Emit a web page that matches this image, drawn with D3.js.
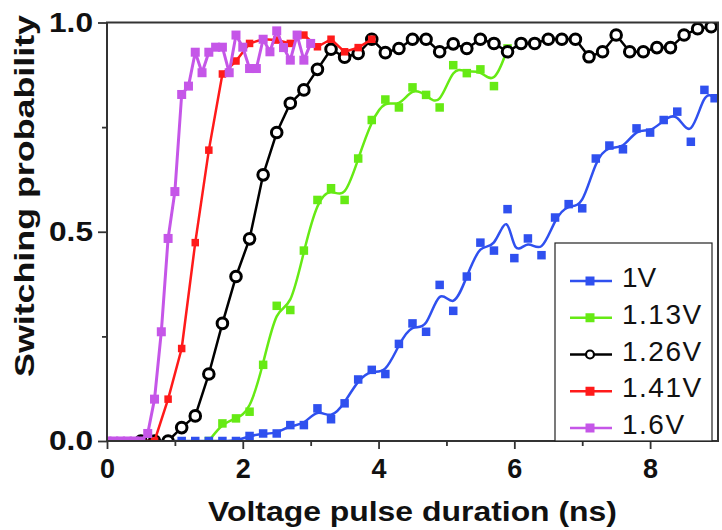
<!DOCTYPE html>
<html><head><meta charset="utf-8">
<script src="https://cdn.jsdelivr.net/npm/d3@7"></script>
<style>body{margin:0;background:#fff}</style>
</head><body>
<svg id="c" width="722" height="530"></svg>
<script>
// ---- data ----
const series = ["1V", "1.13V", "1.26V", "1.41V", "1.6V"];

const t1V = [0.5,0.7,0.9,1.1,1.3,1.5,1.7,1.9,2.1,2.3,2.5,2.7,2.9,3.1,3.3,3.5,3.7,3.9,4.1,4.3,4.5,4.7,4.9,5.1,5.3,5.5,5.7,5.9,6.0,6.2,6.4,6.6,6.8,7.0,7.2,7.4,7.6,7.8,8.0,8.2,8.4,8.6,8.8,8.95];
const p1V = [0,0,0,0,0,0,0,0,0.012,0.018,0.018,0.038,0.038,0.078,0.052,0.09,0.147,0.17,0.16,0.232,0.281,0.261,0.373,0.311,0.393,0.474,0.455,0.554,0.437,0.484,0.444,0.534,0.566,0.556,0.675,0.706,0.697,0.747,0.737,0.767,0.787,0.715,0.839,0.819];

const t113V = [1.5,1.7,1.9,2.1,2.3,2.5,2.7,2.9,3.1,3.3,3.5,3.7,3.9,4.1,4.3,4.5,4.7,4.9,5.1,5.3,5.5,5.7,5.9];
const p113V = [0,0.042,0.054,0.07,0.182,0.323,0.313,0.455,0.576,0.604,0.576,0.675,0.767,0.816,0.797,0.845,0.827,0.797,0.898,0.879,0.888,0.848,0.938];

const t126V = [0.5,0.7,0.9,1.1,1.3,1.5,1.7,1.9,2.1,2.3,2.5,2.7,2.9,3.1,3.3,3.5,3.7,3.9,4.1,4.3,4.5,4.7,4.9,5.1,5.3,5.5,5.7,5.9,6.1,6.3,6.5,6.7,6.9,7.1,7.3,7.5,7.7,7.9,8.1,8.3,8.5,8.7,8.9];
const p126V = [0,0,0,0.032,0.06,0.16,0.281,0.393,0.483,0.636,0.737,0.807,0.839,0.888,0.936,0.917,0.926,0.96,0.928,0.938,0.96,0.96,0.93,0.949,0.938,0.96,0.95,0.93,0.95,0.95,0.96,0.96,0.96,0.918,0.93,0.97,0.93,0.93,0.94,0.94,0.97,0.985,0.99];

const t141V = [0.1,0.3,0.5,0.7,0.9,1.1,1.3,1.5,1.7,1.9,2.1,2.3,2.5,2.7,2.9,3.1,3.3,3.5,3.7,3.9];
const p141V = [0,0,0,0,0.10,0.221,0.474,0.695,0.877,0.908,0.95,0.96,0.958,0.95,0.97,0.942,0.96,0.93,0.94,0.96];

const t16V = [0,0.1,0.2,0.3,0.4,0.5,0.6,0.7,0.8,0.9,1.0,1.1,1.2,1.3,1.4,1.5,1.6,1.7,1.8,1.9,2.0,2.1,2.2,2.3,2.4,2.5,2.6,2.7,2.8,2.9,3.0];
const p16V = [0,0,0,0,0,0,0.018,0.10,0.261,0.484,0.596,0.828,0.848,0.929,0.88,0.929,0.941,0.941,0.88,0.97,0.941,0.89,0.89,0.96,0.93,0.98,0.94,0.91,0.97,0.91,0.95];

const xMajor = [0, 2, 4, 6, 8];
const xMinor = [1, 3, 5, 7];
const yMajor = [0, 0.5, 1.0];
const yMinor = [0.25, 0.75];
const xTitle = "Voltage pulse duration (ns)";
const yTitle = "Switching probability";

// ---- layout ----
const L = 107, R = 718, T = 22.5, B = 441;
const svg = d3.select("#c");
const x = d3.scaleLinear().domain([0, 9]).range([L, R]);
const y = d3.scaleLinear().domain([0, 1]).range([B, T]);
const FONT = "'Liberation Sans', Arial, Helvetica, sans-serif";

const styles = {
  "1V":    {t: t1V,   p: p1V,   color: "#2f50ef", curve: d3.curveBasis,  marker: "sq", size: 8.5, lw: 2.5},
  "1.13V": {t: t113V, p: p113V, color: "#66ea14", curve: d3.curveBasis,  marker: "sq", size: 8.5, lw: 2.5},
  "1.26V": {t: t126V, p: p126V, color: "#000000", curve: d3.curveLinear, marker: "ci", size: 5.3, lw: 2.5},
  "1.41V": {t: t141V, p: p141V, color: "#ff1a1a", curve: d3.curveLinear, marker: "sq", size: 7.5, lw: 2.5},
  "1.6V":  {t: t16V,  p: p16V,  color: "#c556e8", curve: d3.curveLinear, marker: "sq", size: 9,   lw: 3}
};

svg.append("defs").append("clipPath").attr("id", "clip")
  .append("rect").attr("x", L).attr("y", T).attr("width", R - L).attr("height", B - T);

const plot = svg.append("g").attr("clip-path", "url(#clip)");
const drawOrder = ["1.13V", "1V", "1.26V", "1.41V", "1.6V"];
drawOrder.forEach(name => {
  const s = styles[name];
  const pts = s.t.map((t, i) => [t, s.p[i]]);
  const line = d3.line().x(d => x(d[0])).y(d => y(d[1])).curve(s.curve);
  const g = plot.append("g");
  g.append("path").attr("d", line(pts)).attr("fill", "none")
    .attr("stroke", s.color).attr("stroke-width", s.lw).attr("stroke-linejoin", "round");
  if (s.marker === "sq") {
    g.selectAll("rect").data(pts).enter().append("rect")
      .attr("x", d => x(d[0]) - s.size / 2).attr("y", d => y(d[1]) - s.size / 2)
      .attr("width", s.size).attr("height", s.size).attr("fill", s.color);
  } else {
    g.selectAll("circle").data(pts).enter().append("circle")
      .attr("cx", d => x(d[0])).attr("cy", d => y(d[1])).attr("r", s.size)
      .attr("fill", "#fff").attr("stroke", s.color).attr("stroke-width", 3);
  }
});

// ---- axes ----
const axisColor = "#333";
svg.append("g").attr("transform", `translate(0,${B})`)
  .call(d3.axisBottom(x).tickValues(xMajor).tickFormat(d => String(d)).tickSize(8).tickPadding(10));
svg.append("g").attr("transform", `translate(0,${B})`)
  .call(d3.axisBottom(x).tickValues(xMinor).tickFormat("").tickSize(5));
const gy = svg.append("g").attr("transform", `translate(${L},0)`)
  .call(d3.axisLeft(y).tickValues(yMajor).tickFormat(d3.format(".1f")).tickSize(9).tickPadding(5));
svg.append("g").attr("transform", `translate(${L},0)`)
  .call(d3.axisLeft(y).tickValues(yMinor).tickFormat("").tickSize(5));

svg.selectAll(".domain").remove();
svg.selectAll(".tick line").attr("stroke", axisColor).attr("stroke-width", 1.8);
svg.selectAll(".tick text").attr("font-family", FONT).attr("font-weight", "bold")
  .attr("font-size", 27).attr("fill", "#111");
gy.selectAll(".tick text").attr("textLength", 44).attr("lengthAdjust", "spacingAndGlyphs");

// frame
svg.append("rect").attr("x", L).attr("y", T).attr("width", R - L).attr("height", B - T)
  .attr("fill", "none").attr("stroke", axisColor).attr("stroke-width", 2);

// ---- titles ----
svg.append("text").attr("x", (208 + 617) / 2).attr("y", 521)
  .attr("text-anchor", "middle").attr("font-family", FONT).attr("font-weight", "bold")
  .attr("font-size", 27).attr("fill", "#111")
  .attr("textLength", 409).attr("lengthAdjust", "spacingAndGlyphs").text(xTitle);
svg.append("text").attr("transform", "translate(34,196) rotate(-90)")
  .attr("text-anchor", "middle").attr("font-family", FONT).attr("font-weight", "bold")
  .attr("font-size", 27).attr("fill", "#111")
  .attr("textLength", 362).attr("lengthAdjust", "spacingAndGlyphs").text(yTitle);

// ---- legend ----
const lg = svg.append("g");
lg.append("rect").attr("x", 555).attr("y", 243).attr("width", 157).attr("height", B - 243)
  .attr("fill", "#fff").attr("stroke", "#222").attr("stroke-width", 1.2);
const legY = d3.scalePoint().domain(series).range([281, 428]);
series.forEach(name => {
  const s = styles[name];
  const cy = legY(name);
  lg.append("line").attr("x1", 570).attr("x2", 612).attr("y1", cy).attr("y2", cy)
    .attr("stroke", s.color).attr("stroke-width", 2.5);
  if (s.marker === "sq") {
    lg.append("rect").attr("x", 590 - 4.5).attr("y", cy - 4.5).attr("width", 9).attr("height", 9)
      .attr("fill", s.color);
  } else {
    lg.append("circle").attr("cx", 590).attr("cy", cy).attr("r", 4)
      .attr("fill", "#fff").attr("stroke", s.color).attr("stroke-width", 2.2);
  }
  lg.append("text").attr("x", 622).attr("y", cy + 6).attr("font-family", FONT)
    .attr("font-size", 28).attr("fill", "#111").attr("letter-spacing", name.length > 2 ? 1.5 : 0)
    .text(name);
});
</script>
</body></html>
